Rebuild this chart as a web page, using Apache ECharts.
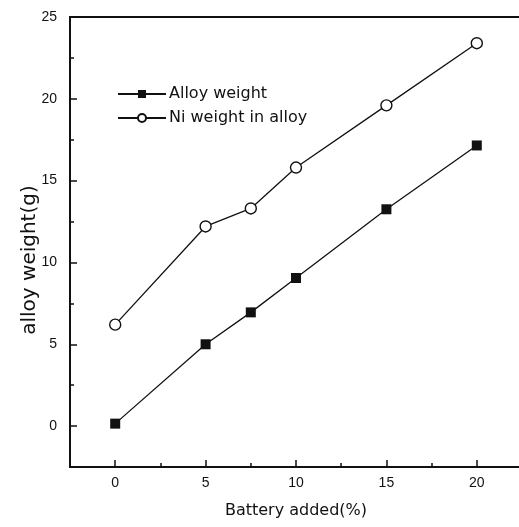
<!DOCTYPE html>
<html>
<head>
<meta charset="utf-8">
<title>alloy weight vs battery added</title>
<script src="https://cdn.jsdelivr.net/npm/echarts@6/dist/echarts.min.js"></script>
<style>
  html, body { margin: 0; padding: 0; background: #fff; }
  #chart { width: 519px; height: 527px; }
</style>
</head>
<body>
<div id="chart"></div>
<script>
// Battery added (%) on x, alloy / Ni weight (g) on y.
const batteryAdded = [0, 5, 7.5, 10, 15, 20];
const alloyWeight = [0.15, 5.0, 6.95, 9.05, 13.25, 17.15];
const niWeight = [6.2, 12.2, 13.3, 15.8, 19.6, 23.4];

const xMajorTicks = [0, 5, 10, 15, 20];
const xMinorTicks = [2.5, 7.5, 12.5, 17.5];
const yMajorTicks = [0, 5, 10, 15, 20, 25];
const yMinorTicks = [-2.5, 2.5, 7.5, 12.5, 17.5, 22.5];

const NUM_FONT = "Liberation Sans, Arial, sans-serif";
const TEXT_FONT = "DejaVu Sans, sans-serif";
const INK = "#111";

const X_RANGE = { min: -2.5, max: 22.5, interval: 2.5 };
const Y_RANGE = { min: -2.5, max: 25, interval: 2.5 };

const pairs = (ys) => batteryAdded.map((x, i) => [x, ys[i]]);

// Tick-only overlay axis: no line, no labels, just inward ticks at `values`.
function tickAxis(range, position, values, length) {
  return {
    type: "value",
    ...range,
    position,
    splitLine: { show: false },
    axisLine: { show: false, onZero: false },
    axisLabel: { show: false },
    axisTick: { inside: true, length, customValues: values, lineStyle: { color: INK, width: 1.5 } },
  };
}

const chart = echarts.init(document.getElementById("chart"), null, { renderer: "canvas" });

chart.setOption({
  backgroundColor: "#fff",
  animation: false,
  textStyle: { fontFamily: NUM_FONT, color: INK },
  grid: {
    left: 70, top: 17, width: 452, height: 450,
    outerBoundsMode: "none",
    show: true, borderColor: INK, borderWidth: 2, backgroundColor: "transparent",
  },
  legend: {
    left: 112, top: 81, orient: "vertical",
    itemWidth: 48, itemHeight: 10, itemGap: 8,
    textStyle: { fontFamily: TEXT_FONT, fontSize: 16, color: INK, padding: [0, 0, 0, -2] },
    data: ["Alloy weight", "Ni weight in alloy"],
  },
  xAxis: [
    {
      type: "value",
      ...X_RANGE,
      splitLine: { show: false },
      axisLine: { show: true, onZero: false, lineStyle: { color: INK, width: 2 } },
      axisTick: { show: false },
      axisLabel: { customValues: xMajorTicks, margin: 9, fontFamily: NUM_FONT, fontSize: 14, color: INK },
      name: "Battery added(%)", nameLocation: "middle", nameGap: 36,
      nameTextStyle: { fontFamily: TEXT_FONT, fontSize: 16, color: INK },
    },
    tickAxis(X_RANGE, "bottom", xMajorTicks, 7),
    tickAxis(X_RANGE, "bottom", xMinorTicks, 4),
  ],
  yAxis: [
    {
      type: "value",
      ...Y_RANGE,
      splitLine: { show: false },
      axisLine: { show: true, onZero: false, lineStyle: { color: INK, width: 2 } },
      axisTick: { show: false },
      axisLabel: { customValues: yMajorTicks, margin: 13, fontFamily: NUM_FONT, fontSize: 14, color: INK },
    },
    tickAxis(Y_RANGE, "left", yMajorTicks, 7),
    tickAxis(Y_RANGE, "left", yMinorTicks, 4),
  ],
  graphic: [
    {
      type: "text",
      x: 30, y: 260, rotation: Math.PI / 2,
      style: {
        text: "alloy weight(g)", fill: INK,
        font: "20px " + TEXT_FONT, align: "center", verticalAlign: "middle",
      },
    },
  ],
  series: [
    {
      name: "Alloy weight",
      type: "line",
      data: pairs(alloyWeight),
      symbol: "rect", symbolSize: 10,
      lineStyle: { color: INK, width: 1.3 },
      itemStyle: { color: INK, borderColor: INK, borderWidth: 0 },
    },
    {
      name: "Ni weight in alloy",
      type: "line",
      data: pairs(niWeight),
      symbol: "circle", symbolSize: 11,
      lineStyle: { color: INK, width: 1.3 },
      itemStyle: { color: "#fff", borderColor: INK, borderWidth: 1.4 },
    },
  ],
});
</script>
</body>
</html>
